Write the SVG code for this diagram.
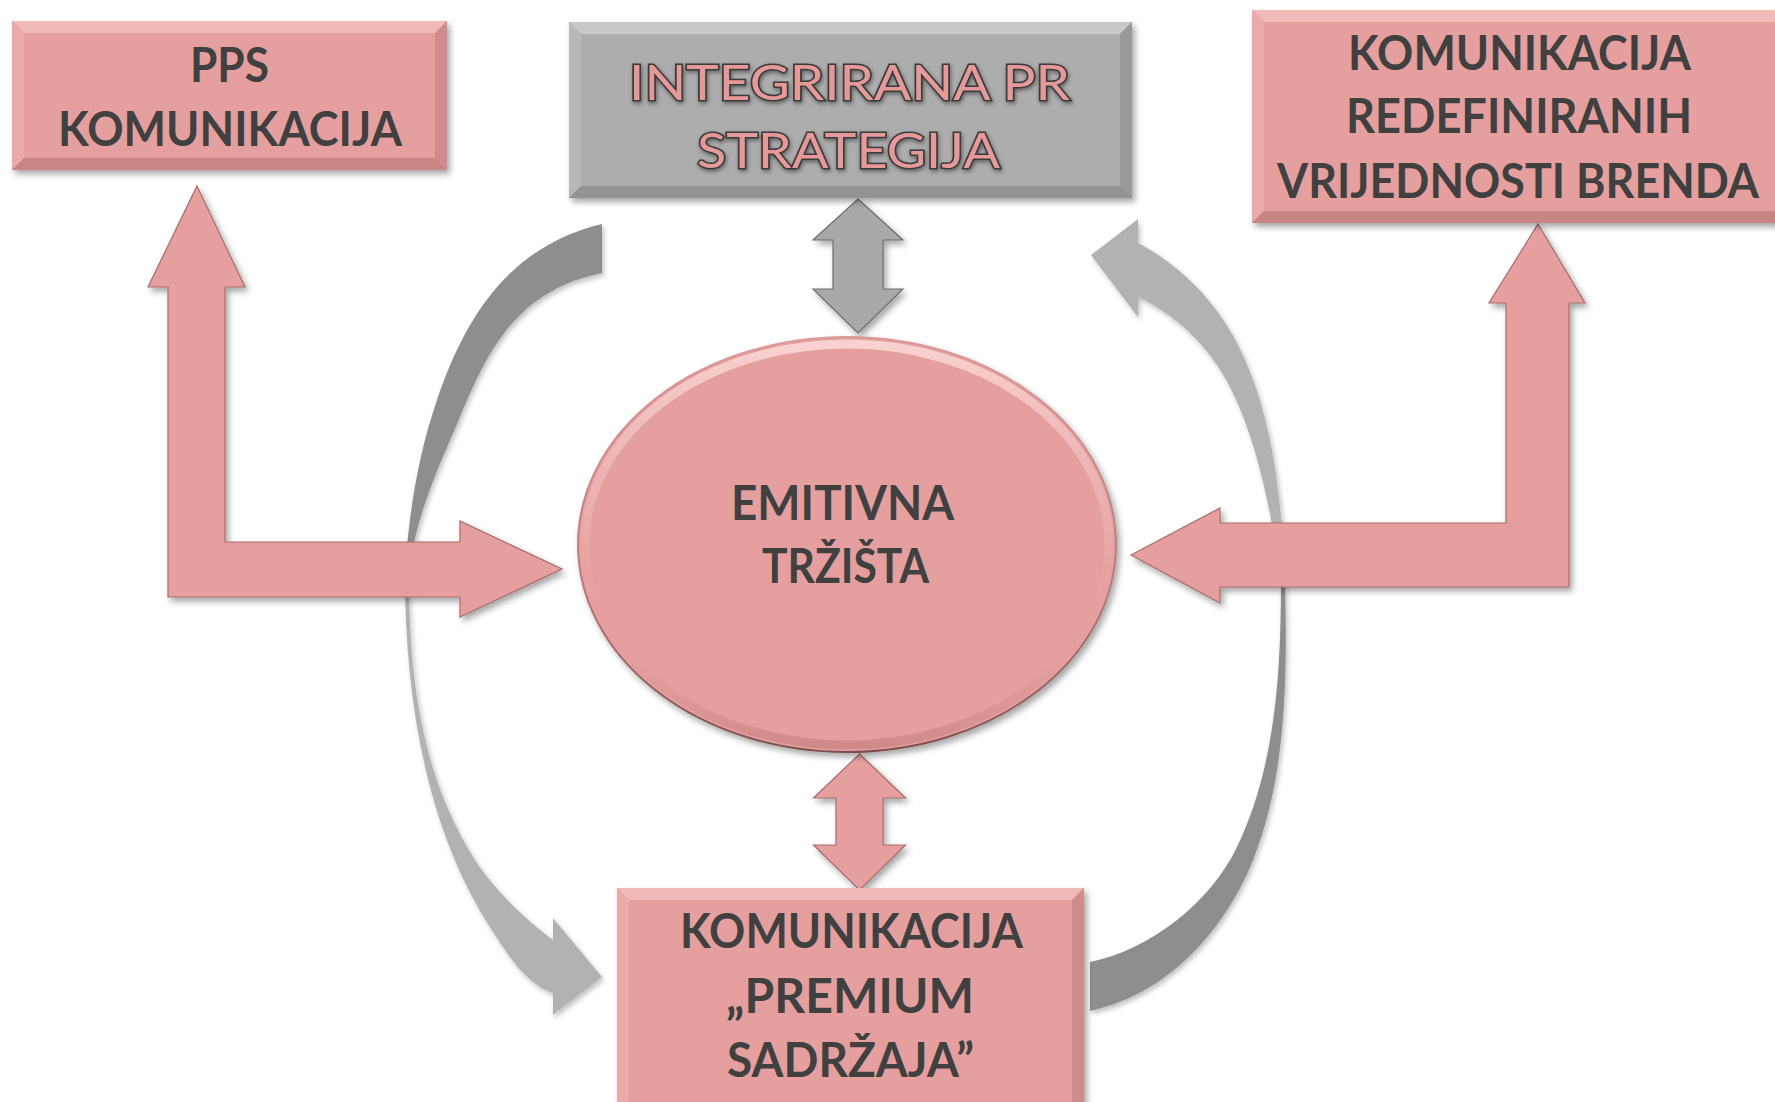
<svg xmlns="http://www.w3.org/2000/svg" width="1775" height="1102" viewBox="0 0 1775 1102">
<defs>
<filter id="sh" x="-10%" y="-10%" width="130%" height="130%">
<feDropShadow dx="3" dy="4" stdDeviation="3" flood-color="#000" flood-opacity="0.35"/>
</filter>
<filter id="shs" x="-10%" y="-10%" width="130%" height="130%">
<feDropShadow dx="2" dy="3" stdDeviation="2.5" flood-color="#000" flood-opacity="0.25"/>
</filter>
<filter id="glow" x="-5%" y="-20%" width="110%" height="140%">
<feDropShadow dx="1" dy="2" stdDeviation="2" flood-color="#000" flood-opacity="0.45"/>
</filter>
<linearGradient id="ellStroke" x1="0" y1="0" x2="0" y2="1">
<stop offset="0" stop-color="#D99A99"/>
<stop offset="0.6" stop-color="#B87A79"/>
<stop offset="1" stop-color="#7E4F4E"/>
</linearGradient>
<linearGradient id="ellRim" x1="0" y1="0" x2="0" y2="1">
<stop offset="0" stop-color="#F8D2D1"/>
<stop offset="0.45" stop-color="#EDB4B3" stop-opacity="0.6"/>
<stop offset="0.7" stop-color="#E59F9E" stop-opacity="0"/>
<stop offset="1" stop-color="#C98584" stop-opacity="0.8"/>
</linearGradient>
</defs>
<style>
.pk{fill:#E59F9E}
.pkA{fill:#E59F9E;stroke:#A86C6B;stroke-width:1.2;stroke-linejoin:miter}
.gyA{fill:#A9A9A9;stroke:#6E6E6E;stroke-width:1.2}
.dk{fill:#8E8E8E}
.lt{fill:#B2B2B2}
.bvT{fill:#F0BAB9}
.bvL{fill:#E9ABAA}
.bvR{fill:#CF8C8B}
.bvB{fill:#C98584}
.gT{fill:#C9C9C9}
.gL{fill:#B8B8B8}
.gR{fill:#999999}
.gB{fill:#939393}
.t{font-family:"Lato","Open Sans","Liberation Sans",sans-serif;font-weight:700;font-size:47px;fill:#404040;text-anchor:middle}
.to{font-family:"Lato","Open Sans","Liberation Sans",sans-serif;font-weight:400;font-size:48px;fill:#E59A99;stroke:#3A3A3A;stroke-width:3;paint-order:stroke;text-anchor:middle}
</style>
<rect width="1775" height="1102" fill="#FFFFFF"/>

<g id="connectors">
<g filter="url(#shs)">
<path class="dk" d="M 602,224 C 505,247 463,324 437,400 C 418,455 408,517 405,575 L 409,575 C 414,520 438,468 460,417 C 486,355 514,291 602,273 Z"/>
<path class="lt" d="M 405,575 C 405,695 425,826 490,927 C 506,952 524.5,983 553,993 L 553,1015 L 602,977 L 553,918 L 553,940 C 525,919 494,889.5 475,860 C 421,776 409,675 409,575 Z"/>
<path class="lt" d="M 1138,219 L 1091,255 L 1138,317 L 1138,297 C 1177,315 1211,349 1230,387 C 1259,445 1270,511 1281,575 L 1285,575 C 1281,496 1273,413 1237,343 C 1215.5,301 1180,265 1138,243 Z"/>
<path class="dk" d="M 1285,575 C 1287,670 1288,772 1253,860 C 1231,916 1178,992 1090,1011 L 1090,962 C 1150,950 1210,903 1237,847 C 1277,764 1281,667 1281,575 Z"/>
</g>
<polygon class="pkA" filter="url(#sh)" points="197,186 245,287 225,287 225,542 460,542 460,521 562,569 460,617 460,597 168,597 168,287 148,287"/>
<polygon class="pkA" filter="url(#sh)" points="1538,224 1585,303 1569,303 1569,587 1220,587 1220,603 1131,555 1220,508 1220,523 1506,523 1506,303 1489,303"/>
<polygon class="gyA" filter="url(#sh)" points="858,199 903,240 883,240 883,289 903,289 858,333 813,289 833,289 833,240 813,240"/>
<polygon class="pkA" filter="url(#sh)" points="859.5,754 905.5,798 883,798 883,845 905.5,845 859.5,890 813.5,845 836,845 836,798 813.5,798"/>
</g>

<g id="node-pps">
<rect x="12" y="21" width="435" height="149" class="pk" filter="url(#sh)"/>
<polygon class="bvT" points="12,21 447,21 435,33 24,33"/>
<polygon class="bvL" points="12,21 24,33 24,158 12,170"/>
<polygon class="bvR" points="447,21 447,170 435,158 435,33"/>
<polygon class="bvB" points="12,170 447,170 435,158 24,158"/>
<rect x="24" y="33" width="411" height="125" class="pk"/>
<text class="t" x="229.5" y="82" textLength="79" lengthAdjust="spacingAndGlyphs">PPS</text>
<text class="t" x="230" y="146" textLength="344" lengthAdjust="spacingAndGlyphs">KOMUNIKACIJA</text>
</g>

<g id="node-strategija">
<rect x="569" y="22" width="563" height="176" fill="#ADADAD" filter="url(#sh)"/>
<polygon class="gT" points="569,22 1132,22 1120,34 581,34"/>
<polygon class="gL" points="569,22 581,34 581,186 569,198"/>
<polygon class="gR" points="1132,22 1132,198 1120,186 1120,34"/>
<polygon class="gB" points="569,198 1132,198 1120,186 581,186"/>
<rect x="581" y="34" width="539" height="152" fill="#ADADAD"/>
<g filter="url(#glow)">
<text class="to" x="849.5" y="100" textLength="441" lengthAdjust="spacingAndGlyphs">INTEGRIRANA PR</text>
<text class="to" x="848.5" y="168" textLength="303" lengthAdjust="spacingAndGlyphs">STRATEGIJA</text>
</g>
</g>

<g id="node-redefinirani">
<rect x="1252" y="10" width="560" height="213" class="pk" filter="url(#sh)"/>
<polygon class="bvT" points="1252,10 1800,10 1788,22 1264,22"/>
<polygon class="bvL" points="1252,10 1264,22 1264,211 1252,223"/>
<polygon class="bvB" points="1252,223 1800,223 1788,211 1264,211"/>
<rect x="1264" y="22" width="524" height="189" class="pk"/>
<text class="t" x="1519.5" y="70" textLength="343" lengthAdjust="spacingAndGlyphs">KOMUNIKACIJA</text>
<text class="t" x="1519" y="133" textLength="346" lengthAdjust="spacingAndGlyphs">REDEFINIRANIH</text>
<text class="t" x="1518" y="198" textLength="482" lengthAdjust="spacingAndGlyphs">VRIJEDNOSTI BRENDA</text>
</g>

<g id="node-emitivna">
<ellipse cx="847" cy="544.5" rx="269" ry="207.5" fill="#E59F9E" stroke="url(#ellStroke)" stroke-width="2" filter="url(#sh)"/>
<ellipse cx="847" cy="544.5" rx="262" ry="200.5" fill="none" stroke="url(#ellRim)" stroke-width="9"/>
<text class="t" x="842.5" y="520" textLength="223" lengthAdjust="spacingAndGlyphs">EMITIVNA</text>
<text class="t" x="845.5" y="583" textLength="167" lengthAdjust="spacingAndGlyphs">TRŽIŠTA</text>
</g>

<g id="node-premium">
<rect x="617" y="888" width="467" height="240" class="pk" filter="url(#sh)"/>
<polygon class="bvT" points="617,888 1084,888 1072,900 629,900"/>
<polygon class="bvL" points="617,888 629,900 629,1110 617,1110"/>
<polygon class="bvR" points="1084,888 1084,1110 1072,1110 1072,900"/>
<rect x="629" y="900" width="443" height="210" class="pk"/>
<text class="t" x="851.5" y="948" textLength="343" lengthAdjust="spacingAndGlyphs">KOMUNIKACIJA</text>
<text class="t" x="850" y="1013" textLength="248" lengthAdjust="spacingAndGlyphs">„PREMIUM</text>
<text class="t" x="850.5" y="1077" textLength="247" lengthAdjust="spacingAndGlyphs">SADRŽAJA”</text>
</g>
</svg>
